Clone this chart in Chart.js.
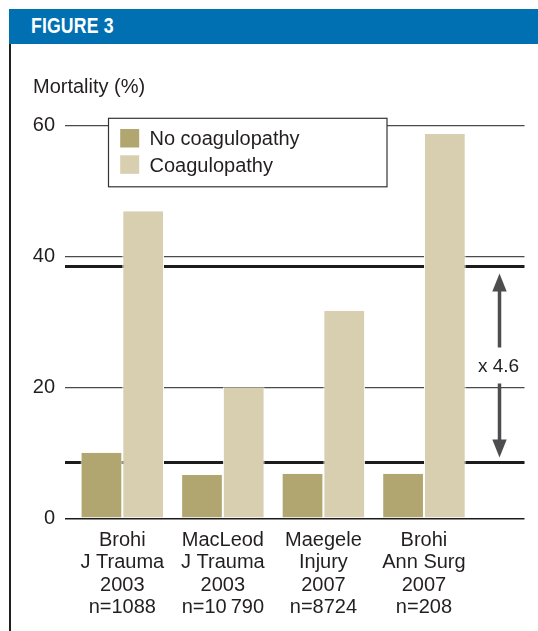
<!DOCTYPE html>
<html lang="en">
<head>
    <meta charset="UTF-8">
    <title>Figure 3</title>
    <script src="https://cdn.jsdelivr.net/npm/chart.js"></script>
    <style>
        html, body { margin: 0; padding: 0; background: #fff; }
        body { width: 538px; height: 631px; position: relative; overflow: hidden; }
        #header {
            position: absolute; left: 8.5px; top: 8.5px; width: 529.5px; height: 35.5px;
            background: #0070b2; color: #fff;
            font: bold 21.5px "Liberation Sans", sans-serif;
            line-height: 35.5px; padding-left: 22.5px; box-sizing: border-box;
        }
        #header span { display: inline-block; transform: scaleX(0.82); transform-origin: left center; letter-spacing: 0.2px; }
        #rule { position: absolute; left: 8.5px; top: 44px; width: 2.5px; height: 587px; background: #231f20; }
        #graph { position: absolute; left: 12px; top: 44px; }
    </style>
</head>
<body>
    <div id="header"><span>FIGURE 3</span></div>
    <div id="rule"></div>
    <canvas id="graph" width="526" height="587"></canvas>

    <script>
        // data
        const xLabels = [
            ['Brohi', 'J Trauma', '2003', 'n=1088'],
            ['MacLeod', 'J Trauma', '2003', 'n=10\u2009790'],
            ['Maegele', 'Injury', '2007', 'n=8724'],
            ['Brohi', 'Ann Surg', '2007', 'n=208']
        ];
        const seriesNames = ['No coagulopathy', 'Coagulopathy'];
        const noCoag = [10, 6.6, 6.8, 6.8];
        const coag = [46.9, 20, 31.7, 58.7];
        const yTicks = [0, 20, 40, 60];
        const refLines = [8.6, 38.6];   // mean levels, the arrow spans them
        const ratioLabel = 'x 4.6';

        const ink = '#231f20';
        const font = 'Liberation Sans';

        // extra marks: two thick level lines, the arrow and the boxed legend
        const annot = {
            id: 'annot',
            beforeDatasetsDraw(chart) {
                const { ctx, chartArea: a, scales: { y } } = chart;
                ctx.save();
                ctx.strokeStyle = '#1e1b1c';
                ctx.lineWidth = 3;
                refLines.forEach(v => {
                    const py = Math.round(y.getPixelForValue(v)) + 0.5;
                    ctx.beginPath();
                    ctx.moveTo(a.left, py);
                    ctx.lineTo(a.right, py);
                    ctx.stroke();
                });
                ctx.restore();
            },
            afterDatasetsDraw(chart) {
                const { ctx, chartArea: a, scales: { y } } = chart;
                ctx.save();

                // arrow
                const ax = a.right - 25;
                const top = y.getPixelForValue(refLines[1]) + 8;
                const bot = y.getPixelForValue(refLines[0]) - 4.5;
                const mid = (top + bot) / 2;
                const hh = 18, hw = 7.2;
                ctx.strokeStyle = '#4d4d4f';
                ctx.fillStyle = '#4d4d4f';
                ctx.lineWidth = 3.5;
                ctx.beginPath();
                ctx.moveTo(ax, top + hh - 2); ctx.lineTo(ax, mid - 18);
                ctx.moveTo(ax, mid + 18); ctx.lineTo(ax, bot - hh + 2);
                ctx.stroke();
                ctx.beginPath();
                ctx.moveTo(ax, top); ctx.lineTo(ax - hw, top + hh); ctx.lineTo(ax + hw, top + hh); ctx.closePath();
                ctx.fill();
                ctx.beginPath();
                ctx.moveTo(ax, bot); ctx.lineTo(ax - hw, bot - hh); ctx.lineTo(ax + hw, bot - hh); ctx.closePath();
                ctx.fill();
                ctx.fillStyle = ink;
                ctx.font = '19px ' + font;
                ctx.textAlign = 'center';
                ctx.textBaseline = 'middle';
                ctx.fillText(ratioLabel, ax - 1, mid + 1);

                // legend box
                const bx = a.left + 43.5, by = y.getPixelForValue(60) - 7.2;
                ctx.fillStyle = '#fff';
                ctx.fillRect(bx, by, 278.5, 68.5);
                ctx.strokeStyle = '#333';
                ctx.lineWidth = 1.2;
                ctx.strokeRect(bx, by, 278.5, 68.5);
                ctx.font = '20px ' + font;
                ctx.textAlign = 'left';
                ctx.textBaseline = 'alphabetic';
                chart.data.datasets.forEach((ds, i) => {
                    ctx.fillStyle = ds.backgroundColor;
                    ctx.fillRect(bx + 11.7, by + 10.7 + i * 26.3, 19, 18.5);
                    ctx.fillStyle = ink;
                    ctx.fillText(ds.label, bx + 41, by + 26.7 + i * 26.5);
                });
                ctx.restore();
            }
        };

        function drawChart() {
            const ctx = document.getElementById('graph').getContext('2d');
            new Chart(ctx, {
                type: 'bar',
                data: {
                    datasets: [
                        {
                            label: seriesNames[0],
                            data: noCoag.map((v, i) => ({ x: i, y: v })),
                            backgroundColor: '#b1a670'
                        },
                        {
                            label: seriesNames[1],
                            data: coag.map((v, i) => ({ x: i, y: v })),
                            backgroundColor: '#d7cfb0'
                        }
                    ]
                },
                options: {
                    responsive: false,
                    animation: false,
                    layout: { padding: { left: 21, right: 13.5, top: 0, bottom: 0 } },
                    datasets: {
                        bar: {
                            categoryPercentage: 0.83,
                            barPercentage: 1,
                            borderColor: '#fff',
                            borderWidth: { left: 1, right: 1, top: 0, bottom: 0 },
                            borderSkipped: false
                        }
                    },
                    plugins: {
                        legend: { display: false },
                        tooltip: { enabled: false },
                        title: {
                            display: true,
                            text: 'Mortality (%)',
                            align: 'start',
                            color: ink,
                            font: { family: font, size: 20, weight: 'normal', lineHeight: 1.2 },
                            padding: { top: 31.9, bottom: 25.6 }
                        }
                    },
                    scales: {
                        x: {
                            type: 'linear',
                            offset: false,
                            min: -0.57,
                            max: 4.0,
                            grid: { display: false, offset: false },
                            border: { display: false },
                            afterBuildTicks: s => { s.ticks = xLabels.map((_, i) => ({ value: i })); },
                            afterFit: s => { s.height = 112.7; },
                            ticks: {
                                autoSkip: false,
                                maxRotation: 0,
                                padding: 3,
                                color: ink,
                                font: { family: font, size: 20, lineHeight: 1.12 },
                                callback: v => xLabels[v]
                            }
                        },
                        y: {
                            min: 0,
                            max: 60,
                            afterBuildTicks: s => { s.ticks = yTicks.map(v => ({ value: v })); },
                            afterFit: s => { s.width = 32; },
                            border: { display: false },
                            grid: {
                                drawTicks: false,
                                color: c => c.tick && c.tick.value === 0 ? '#1e1b1c' : '#4a4a4a',
                                lineWidth: c => c.tick && c.tick.value === 0 ? 1.6 : 1.2
                            },
                            ticks: {
                                padding: 10,
                                color: ink,
                                font: { family: font, size: 20 }
                            }
                        }
                    }
                },
                plugins: [annot]
            });
        }

        window.onload = drawChart;
    </script>
</body>
</html>
